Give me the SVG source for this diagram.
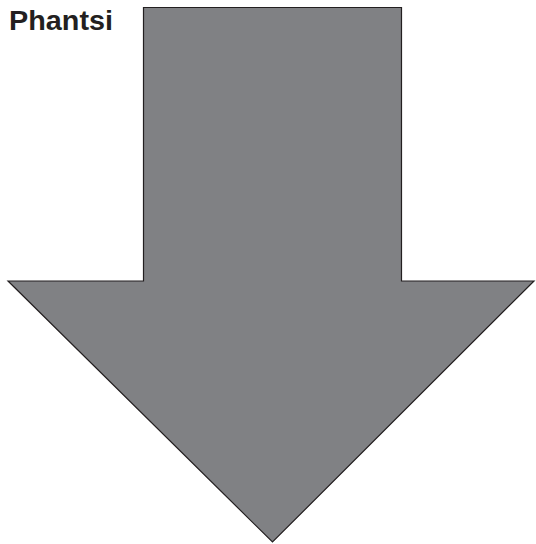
<svg xmlns="http://www.w3.org/2000/svg" width="536" height="544" viewBox="0 0 536 544">
<style>
.lbl{font-family:"Liberation Sans",Arial,sans-serif;font-weight:bold;font-size:27px;fill:#231f20}
.arrow{fill:#808184;stroke:#231f20;stroke-width:1.2;stroke-linejoin:miter}
</style>
<rect width="536" height="544" fill="#ffffff"/>
<g id="label"><text class="lbl" x="9" y="30" textLength="104" lengthAdjust="spacingAndGlyphs">Phantsi</text></g>
<g id="arrow"><polygon class="arrow" points="143.5,7.5 401.5,7.5 401.5,281 534,281 272.5,542 8,281 143.5,281"/></g>
</svg>
